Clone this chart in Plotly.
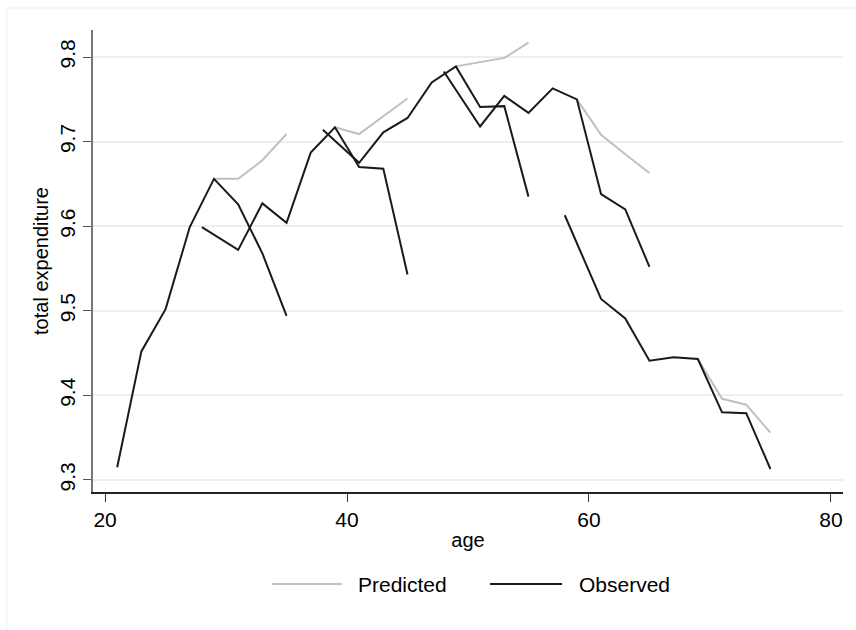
import plotly.graph_objects as go

# ---- data: five age cohorts ----
obs_ages = [
    [21, 23, 25, 27, 29, 31, 33, 35],
    [28, 31, 33, 35, 37, 39, 41, 43, 45],
    [38, 41, 43, 45, 47, 49, 51, 53, 55],
    [48, 51, 53, 55, 57, 59, 61, 63, 65],
    [58, 61, 63, 65, 67, 69, 71, 73, 75],
]
obs_vals = [
    [9.315, 9.452, 9.502, 9.599, 9.656, 9.626, 9.568, 9.494],
    [9.599, 9.572, 9.627, 9.604, 9.687, 9.717, 9.670, 9.668, 9.543],
    [9.714, 9.675, 9.711, 9.728, 9.770, 9.789, 9.741, 9.742, 9.635],
    [9.783, 9.718, 9.754, 9.734, 9.763, 9.750, 9.638, 9.620, 9.552],
    [9.613, 9.514, 9.491, 9.441, 9.445, 9.443, 9.380, 9.379, 9.313],
]
pred_ages = [
    [29, 31, 33, 35],
    [39, 41, 43, 45],
    [49, 51, 53, 55],
    [59, 61, 63, 65],
    [69, 71, 73, 75],
]
pred_vals = [
    [9.656, 9.656, 9.678, 9.709],
    [9.717, 9.709, 9.730, 9.751],
    [9.789, 9.794, 9.799, 9.817],
    [9.750, 9.708, 9.685, 9.663],
    [9.443, 9.396, 9.389, 9.356],
]
x_ticks = [20, 40, 60, 80]
y_ticks = [9.3, 9.4, 9.5, 9.6, 9.7, 9.8]
legend_labels = ["Predicted", "Observed"]

GRAY = "#c0c0c0"
BLACK = "#1a1a1a"
FONT = "Liberation Sans, Arial, sans-serif"

fig = go.Figure()
for a, v in zip(pred_ages, pred_vals):
    fig.add_trace(go.Scatter(x=a, y=v, mode="lines", line=dict(color=GRAY, width=2),
                             name=legend_labels[0], showlegend=False, hoverinfo="skip"))
for a, v in zip(obs_ages, obs_vals):
    fig.add_trace(go.Scatter(x=a, y=v, mode="lines", line=dict(color=BLACK, width=2),
                             name=legend_labels[1], showlegend=False, hoverinfo="skip"))

L, R, T, B = 93, 13, 30, 138
W, H = 856, 630
pw, ph = W - L - R, H - T - B

def px(x):
    return (x - L) / pw

def py(y):
    return (H - B - y) / ph

# faint outer frame
fig.add_shape(type="rect", xref="paper", yref="paper",
              x0=px(7), x1=px(880), y0=py(660), y1=py(8),
              line=dict(color="#edf3f4", width=1), fillcolor="rgba(0,0,0,0)", layer="below")

# manual legend (centred under the plot region)
ly = py(584)
fig.add_shape(type="line", xref="paper", yref="paper", x0=px(272), x1=px(342), y0=ly, y1=ly,
              line=dict(color=GRAY, width=2))
fig.add_shape(type="line", xref="paper", yref="paper", x0=px(490), x1=px(562), y0=ly, y1=ly,
              line=dict(color=BLACK, width=2))
fig.add_annotation(xref="paper", yref="paper", x=px(356), y=ly, text=legend_labels[0],
                   showarrow=False, xanchor="left", yanchor="middle",
                   font=dict(family=FONT, size=21, color="#000"))
fig.add_annotation(xref="paper", yref="paper", x=px(577), y=ly, text=legend_labels[1],
                   showarrow=False, xanchor="left", yanchor="middle",
                   font=dict(family=FONT, size=21, color="#000"))

fig.update_layout(
    width=W, height=H,
    margin=dict(l=L, r=R, t=T, b=B, pad=0),
    paper_bgcolor="white", plot_bgcolor="white",
    font=dict(family=FONT, size=20, color="#000"),
    showlegend=False,
)
fig.update_xaxes(
    range=[19.0, 81.0], tickvals=x_ticks, ticktext=[str(t) for t in x_ticks],
    ticks="outside", ticklen=8, tickwidth=1, tickcolor="#333",
    showline=True, linecolor="#222", linewidth=1.5, mirror=False,
    showgrid=False, zeroline=False,
    title=dict(text="age", font=dict(size=20), standoff=3),
    tickfont=dict(size=21),
)
fig.update_yaxes(
    range=[9.2858, 9.832], tickvals=y_ticks, ticktext=[f"{t:.1f}" for t in y_ticks],
    ticks="outside", ticklen=8, tickwidth=1, tickcolor="#555", tickangle=-90,
    showline=True, linecolor="#777", linewidth=1.5,
    showgrid=True, gridcolor="#e8f0f2", gridwidth=1.5, zeroline=False,
    title=dict(text="total expenditure", font=dict(size=20), standoff=2),
    tickfont=dict(size=21),
)

fig.write_html("out.html")
